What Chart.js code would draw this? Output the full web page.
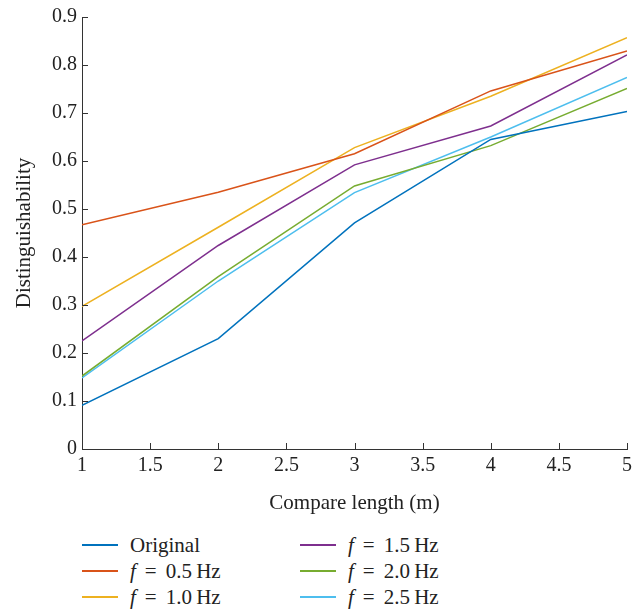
<!DOCTYPE html>
<html>
<head>
<meta charset="utf-8">
<script src="https://cdn.jsdelivr.net/npm/chart.js@4/dist/chart.umd.min.js"></script>
<style>
    body { margin: 0; background: #fff; font-family: 'Liberation Serif', 'DejaVu Serif', serif; }
    #wrap { position: relative; width: 642px; height: 610px; }
    #chart { position: absolute; left: 0; top: 0; }
    .legend { position: absolute; top: 532px; font-size: 21px; color: #222; }
    .legend div { height: 26px; display: flex; align-items: center; }
    .legend span.sw { display: inline-block; width: 36px; height: 1.6px; margin-right: 12px; }
    .legend i { margin-right: 9px; }
    .legend span.eq { margin-right: 9px; }
</style>
</head>
<body>
<div id="wrap">
    <canvas id="chart" width="642" height="520"></canvas>
    <div class="legend" id="legCol1" style="left:82px"></div>
    <div class="legend" id="legCol2" style="left:300px"></div>
</div>
<script>
const LENGTHS = [1, 2, 3, 4, 5];
const ORIGINAL = [0.091, 0.230, 0.471, 0.645, 0.703];
const F_05 = [0.467, 0.535, 0.615, 0.746, 0.829];
const F_10 = [0.297, 0.462, 0.628, 0.735, 0.857];
const F_15 = [0.225, 0.424, 0.592, 0.673, 0.821];
const F_20 = [0.152, 0.359, 0.548, 0.632, 0.751];
const F_25 = [0.148, 0.350, 0.534, 0.650, 0.774];

const SERIES_DEFS = [
    { label: 'Original', hz: null, color: '#0072BD', data: ORIGINAL },
    { label: 'f = 0.5 Hz', hz: '0.5', color: '#D95319', data: F_05 },
    { label: 'f = 1.0 Hz', hz: '1.0', color: '#EDB120', data: F_10 },
    { label: 'f = 1.5 Hz', hz: '1.5', color: '#7E2F8E', data: F_15 },
    { label: 'f = 2.0 Hz', hz: '2.0', color: '#77AC30', data: F_20 },
    { label: 'f = 2.5 Hz', hz: '2.5', color: '#4DBEEE', data: F_25 }
];

const FONT = "'Liberation Serif', 'DejaVu Serif', serif";

// inward pointing ticks, like the original figure
const inwardTicks = {
    id: 'inwardTicks',
    afterDraw(chart) {
        const ctx = chart.ctx;
        const x = chart.scales.x;
        const y = chart.scales.y;
        ctx.save();
        ctx.strokeStyle = '#333';
        ctx.lineWidth = 1;
        ctx.beginPath();
        x.ticks.forEach(t => {
            const px = Math.round(x.getPixelForValue(t.value)) + 0.5;
            ctx.moveTo(px, y.bottom);
            ctx.lineTo(px, y.bottom - 6);
        });
        y.ticks.forEach(t => {
            const py = Math.round(y.getPixelForValue(t.value)) + 0.5;
            ctx.moveTo(x.left, py);
            ctx.lineTo(x.left + 6, py);
        });
        ctx.stroke();
        ctx.restore();
    }
};

new Chart(document.getElementById('chart'), {
    type: 'line',
    data: {
        datasets: SERIES_DEFS.map(s => ({
            label: s.label,
            data: LENGTHS.map((x, i) => ({ x, y: s.data[i] })),
            borderColor: s.color,
            backgroundColor: 'transparent',
            borderWidth: 1.5,
            pointRadius: 0,
            tension: 0
        }))
    },
    options: {
        responsive: false,
        animation: false,
        layout: { padding: { left: 0, right: 15, top: 17, bottom: 0 } },
        plugins: { legend: { display: false }, tooltip: { enabled: false } },
        scales: {
            x: {
                type: 'linear',
                min: 1,
                max: 5,
                afterFit(scale) { scale.height = 71; },
                ticks: { stepSize: 0.5, color: '#222', font: { family: FONT, size: 20 }, padding: 5, maxRotation: 0,
                    callback(v) { return Number(v.toFixed(1)).toString(); } },
                grid: { display: true, drawOnChartArea: false, drawTicks: false },
                border: { display: true, color: '#333', width: 1 },
                title: { display: true, text: 'Compare length (m)', color: '#222', font: { family: FONT, size: 21 }, padding: { top: 2 } }
            },
            y: {
                min: 0,
                max: 0.9,
                afterFit(scale) { scale.width = 82; },
                ticks: { stepSize: 0.1, color: '#222', font: { family: FONT, size: 20 }, padding: 5,
                    callback(v) { return Number(v.toFixed(1)).toString(); } },
                grid: { display: true, drawOnChartArea: false, drawTicks: false },
                border: { display: true, color: '#333', width: 1 },
                title: { display: true, text: 'Distinguishability', color: '#222', font: { family: FONT, size: 21 }, padding: { top: 12, bottom: 4 } }
            }
        }
    },
    plugins: [inwardTicks]
});

function buildLegend(colId, defs) {
    const col = document.getElementById(colId);
    defs.forEach(s => {
        const row = document.createElement('div');
        const sw = document.createElement('span');
        sw.className = 'sw';
        sw.style.background = s.color;
        row.appendChild(sw);
        if (s.hz) {
            const f = document.createElement('i');
            f.textContent = 'f';
            row.appendChild(f);
            const eq = document.createElement('span');
            eq.className = 'eq';
            eq.textContent = '=';
            row.appendChild(eq);
            row.appendChild(document.createTextNode(s.hz + '\u2009Hz'));
        } else {
            row.appendChild(document.createTextNode(s.label));
        }
        col.appendChild(row);
    });
}
buildLegend('legCol1', SERIES_DEFS.slice(0, 3));
buildLegend('legCol2', SERIES_DEFS.slice(3));
</script>
</body>
</html>
